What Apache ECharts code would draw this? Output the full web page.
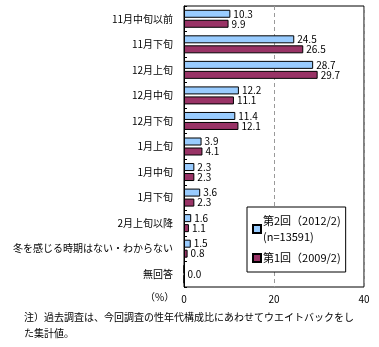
<!DOCTYPE html>
<html><head><meta charset="utf-8">
<script src="https://cdn.jsdelivr.net/npm/echarts@6/dist/echarts.min.js"></script>
<style>html,body{margin:0;padding:0;background:#fff}#c{width:379px;height:347px}</style>
</head><body><div id="c"></div>
<script>
const categories = ['11月中旬以前','11月下旬','12月上旬','12月中旬','12月下旬','1月上旬','1月中旬','1月下旬','2月上旬以降','冬を感じる時期はない・わからない','無回答'];
const seriesNames = ['第2回（2012/2)\n(n=13591)', '第1回（2009/2)'];
const values2012 = [10.3, 24.5, 28.7, 12.2, 11.4, 3.9, 2.3, 3.6, 1.6, 1.5, 0.0];
const values2009 = [9.9, 26.5, 29.7, 11.1, 12.1, 4.1, 2.3, 2.3, 1.1, 0.8, 0.0];
const xTicks = [0, 20, 40];

const FONT = '"Noto Sans CJK JP", sans-serif';
const chart = echarts.init(document.getElementById('c'));
const lab = {show: true, position: 'right', distance: 3, color: '#000', fontSize: 10, fontFamily: FONT, formatter: p => p.value.toFixed(1)};
const d2012 = values2012.map((v, i) => i === categories.length - 1 ? {value: v, label: {show: false}} : v);
const d2009 = values2009.map((v, i) => i === categories.length - 1 ? {value: v, label: {offset: [0, -5]}} : v);
chart.setOption({
  animation: false,
  grid: {left: 184, right: 15, top: 6, bottom: 60, show: true, borderColor: '#000', borderWidth: 1, backgroundColor: 'transparent'},
  xAxis: {type: 'value', min: 0, max: 40, interval: 20,
    axisLine: {show: false}, axisTick: {show: false},
    splitLine: {show: true, lineStyle: {color: '#999', type: [4, 3], width: 1}},
    axisLabel: {color: '#000', fontSize: 10, fontFamily: FONT, margin: 7, formatter: v => xTicks.includes(v) ? String(v) : ''}},
  yAxis: {type: 'category', data: categories, inverse: true,
    axisLine: {show: true, lineStyle: {color: '#000', width: 1}},
    axisTick: {show: true, inside: true, length: 3, lineStyle: {color: '#000'}},
    axisLabel: {color: '#000', fontSize: 10, fontFamily: FONT, margin: 11}},
  legend: {orient: 'vertical', left: 247, top: 207, width: 96, padding: [6, 5, 6, 5],
    backgroundColor: '#fff', borderColor: '#000', borderWidth: 1,
    itemWidth: 8, itemHeight: 8, itemGap: 5, icon: 'rect',
    textStyle: {color: '#000', fontSize: 11, fontFamily: FONT, lineHeight: 16, padding: [0, 0, 0, -3]},
    data: seriesNames},
  series: [
    {name: seriesNames[0], type: 'bar', data: d2012, barWidth: 8, barGap: '25%',
     itemStyle: {color: '#99CCFF', borderColor: '#000', borderWidth: 1}, label: lab},
    {name: seriesNames[1], type: 'bar', data: d2009, barWidth: 8,
     itemStyle: {color: '#993366', borderColor: '#000', borderWidth: 1}, label: lab}
  ],
  graphic: [
    {type: 'text', left: 145, top: 292, style: {text: '（%）', fontSize: 10, fontFamily: FONT, fill: '#000'}},
    {type: 'text', left: 24, top: 309, style: {text: '注）過去調査は、今回調査の性年代構成比にあわせてウエイトバックをし\nた集計値。', fontSize: 10, lineHeight: 16, fontFamily: FONT, fill: '#000'}}
  ]
});
</script></body></html>
